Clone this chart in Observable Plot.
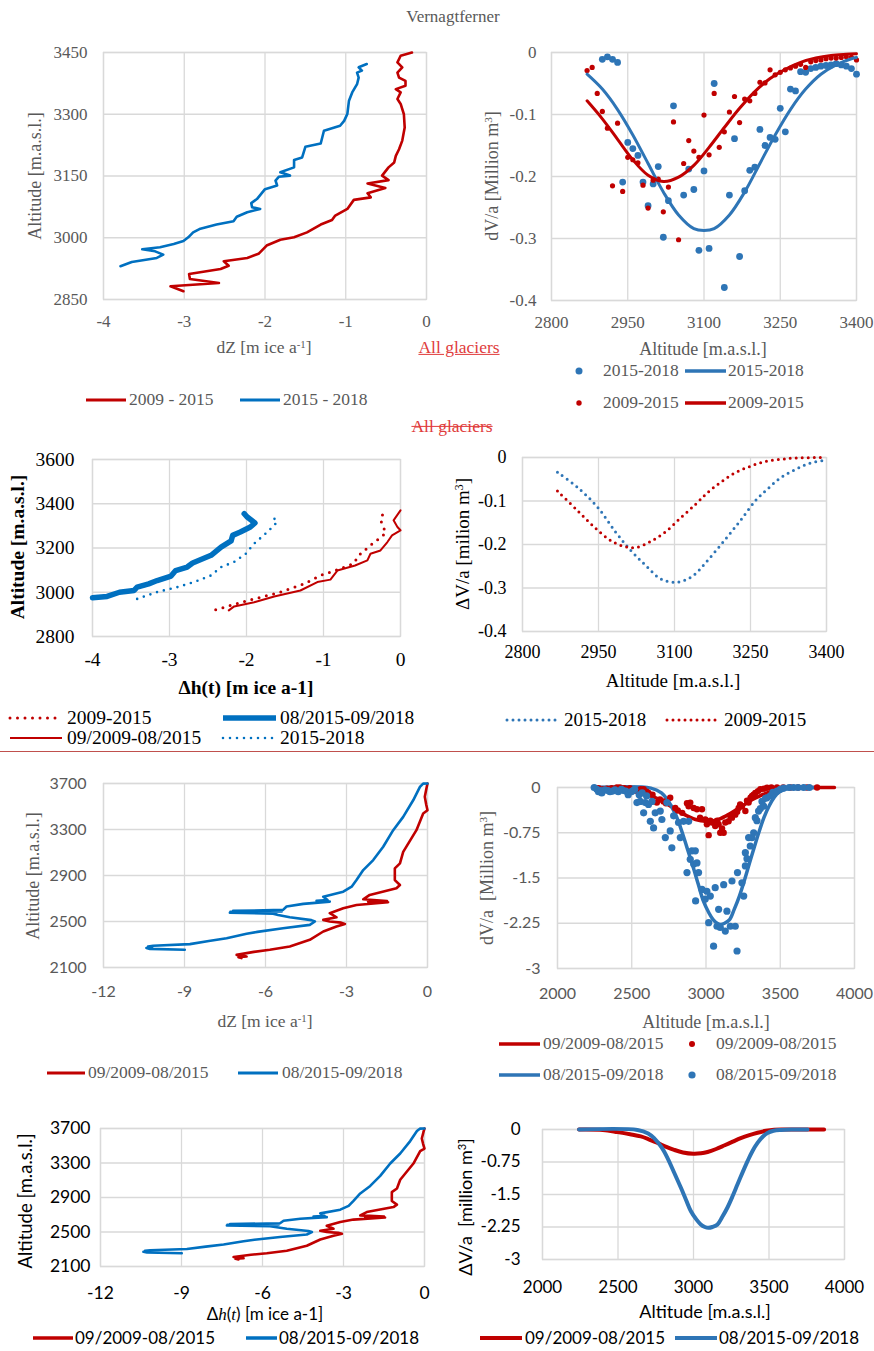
<!DOCTYPE html>
<html><head><meta charset="utf-8">
<script src="https://cdn.jsdelivr.net/npm/d3@7"></script>
<script src="https://cdn.jsdelivr.net/npm/@observablehq/plot@0.6"></script>
<style>
html,body{margin:0;padding:0;background:#fff}
#root{position:relative;width:874px;height:1351px;overflow:hidden;background:#fff}
.t{position:absolute;white-space:nowrap;line-height:1}
.sup{font-size:.62em;vertical-align:.5em}
</style></head><body><div id="root"></div>
<script>
// ---------------- DATA ----------------
// Panel 1 (Vernagtferner dZ profiles) : [dZ, altitude]
const vernDz0915 = [[-3.01,2870],[-3.17,2882],[-2.57,2890],[-2.93,2900],[-2.94,2912],[-2.55,2924],[-2.45,2932],[-2.51,2943],[-2.22,2951],[-2.08,2961],[-1.98,2981],[-1.81,2995],[-1.64,3001],[-1.48,3013],[-1.31,3032],[-1.17,3043],[-1.13,3054],[-0.98,3070],[-0.90,3092],[-0.69,3098],[-0.73,3108],[-0.51,3121],[-0.73,3132],[-0.47,3140],[-0.55,3151],[-0.47,3171],[-0.40,3183],[-0.38,3199],[-0.34,3215],[-0.30,3236],[-0.27,3268],[-0.28,3300],[-0.32,3325],[-0.36,3337],[-0.32,3353],[-0.38,3361],[-0.26,3369],[-0.26,3381],[-0.34,3389],[-0.36,3401],[-0.30,3414],[-0.36,3426],[-0.32,3442],[-0.18,3450]];
const vernDz1518 = [[-3.79,2931],[-3.65,2941],[-3.34,2951],[-3.26,2959],[-3.36,2967],[-3.52,2972],[-3.30,2977],[-3.13,2985],[-3.01,2992],[-2.95,3001],[-2.89,3013],[-2.80,3022],[-2.60,3032],[-2.39,3040],[-2.35,3051],[-2.22,3062],[-2.06,3070],[-2.16,3074],[-2.17,3084],[-2.10,3094],[-2.00,3118],[-1.85,3127],[-1.87,3139],[-1.83,3148],[-1.69,3151],[-1.81,3159],[-1.64,3171],[-1.64,3189],[-1.54,3195],[-1.50,3221],[-1.31,3229],[-1.27,3260],[-1.07,3272],[-1.02,3284],[-0.98,3301],[-0.96,3333],[-0.92,3353],[-0.86,3373],[-0.84,3389],[-0.86,3401],[-0.80,3406],[-0.84,3414],[-0.74,3422]];

// Panel 2 (Vernagtferner dV/a) : [altitude, dV/a]
const vernDv1518Pts = [[2900,-0.011],[2910,-0.007],[2920,-0.011],[2930,-0.016],[2940,-0.209],[2950,-0.145],[2960,-0.155],[2970,-0.166],[2980,-0.209],[2990,-0.247],[3000,-0.212],[3010,-0.184],[3020,-0.298],[3030,-0.239],[3040,-0.086],[3060,-0.230],[3070,-0.188],[3080,-0.221],[3090,-0.319],[3100,-0.191],[3110,-0.316],[3120,-0.050],[3140,-0.379],[3150,-0.230],[3160,-0.139],[3170,-0.329],[3180,-0.223],[3190,-0.190],[3200,-0.185],[3210,-0.124],[3220,-0.150],[3230,-0.137],[3240,-0.140],[3250,-0.090],[3260,-0.128],[3270,-0.059],[3280,-0.062],[3290,-0.031],[3300,-0.032],[3310,-0.026],[3320,-0.024],[3330,-0.022],[3340,-0.021],[3350,-0.020],[3360,-0.018],[3370,-0.020],[3380,-0.022],[3390,-0.026],[3400,-0.035]];
const vernDv0915Pts = [[2870,-0.029],[2880,-0.024],[2890,-0.066],[2900,-0.095],[2910,-0.122],[2920,-0.215],[2930,-0.114],[2940,-0.224],[2950,-0.169],[2960,-0.173],[2970,-0.178],[2980,-0.214],[2990,-0.251],[3000,-0.206],[3010,-0.204],[3020,-0.257],[3030,-0.217],[3040,-0.112],[3050,-0.302],[3060,-0.179],[3070,-0.142],[3080,-0.159],[3090,-0.169],[3100,-0.101],[3110,-0.165],[3120,-0.066],[3130,-0.153],[3140,-0.128],[3150,-0.096],[3160,-0.071],[3170,-0.113],[3180,-0.075],[3190,-0.078],[3200,-0.066],[3210,-0.048],[3220,-0.049],[3230,-0.028],[3240,-0.036],[3250,-0.032],[3260,-0.028],[3270,-0.025],[3280,-0.022],[3290,-0.019],[3300,-0.024],[3310,-0.015],[3320,-0.013],[3330,-0.012],[3340,-0.010],[3350,-0.009],[3360,-0.009],[3370,-0.008],[3380,-0.007],[3390,-0.008],[3400,-0.012]];
const vernDv1518Fit = [[2870,-0.035],[2900,-0.059],[2930,-0.092],[2960,-0.133],[2990,-0.179],[3020,-0.225],[3050,-0.262],[3080,-0.284],[3100,-0.287],[3120,-0.284],[3150,-0.262],[3180,-0.225],[3210,-0.179],[3240,-0.133],[3270,-0.092],[3300,-0.059],[3330,-0.035],[3360,-0.020],[3390,-0.010],[3400,-0.008]];
const vernDv0915Fit = [[2870,-0.078],[2900,-0.107],[2930,-0.140],[2960,-0.173],[2990,-0.198],[3020,-0.208],[3050,-0.201],[3080,-0.182],[3110,-0.153],[3140,-0.121],[3170,-0.090],[3200,-0.063],[3230,-0.042],[3260,-0.027],[3290,-0.016],[3320,-0.009],[3350,-0.005],[3380,-0.003],[3400,-0.002]];

// Panel 3 (All glaciers, Δh(t)) : [Δh, altitude]
const agDh0915Dot = [[-2.40,2921],[-2.21,2940],[-1.95,2966],[-1.60,2996],[-1.25,3038],[-1.04,3076],[-0.82,3102],[-0.61,3129],[-0.54,3167],[-0.39,3212],[-0.28,3242],[-0.19,3268],[-0.22,3292],[-0.26,3328],[-0.21,3368]];
const agDh0915Line = [[-2.23,2918],[-2.16,2936],[-1.90,2955],[-1.64,2981],[-1.30,3008],[-1.08,3046],[-0.91,3057],[-0.82,3098],[-0.59,3121],[-0.43,3144],[-0.39,3174],[-0.26,3189],[-0.17,3227],[-0.11,3257],[0,3280],[-0.04,3295],[-0.09,3325],[0,3370]];
const agDh1518Line = [[-4,2975],[-3.81,2981],[-3.65,3000],[-3.46,3008],[-3.42,3023],[-3.27,3038],[-3.16,3053],[-2.98,3073],[-2.92,3098],[-2.77,3114],[-2.70,3132],[-2.46,3167],[-2.33,3204],[-2.20,3232],[-2.18,3257],[-2.08,3272],[-1.95,3295],[-1.89,3313],[-1.99,3340],[-2.03,3355]];
const agDh1518Dot = [[-3.42,2970],[-3.16,3001],[-2.90,3023],[-2.68,3046],[-2.46,3076],[-2.33,3114],[-2.16,3137],[-2.01,3174],[-1.90,3220],[-1.73,3272],[-1.60,3318],[-1.64,3333]];

// Panel 4 (All glaciers ΔV/a) : [altitude, ΔV/a]
const agDv1518 = [[2869,-0.034],[2908,-0.068],[2948,-0.114],[2984,-0.172],[3014,-0.214],[3043,-0.248],[3073,-0.279],[3104,-0.287],[3135,-0.273],[3168,-0.233],[3201,-0.187],[3230,-0.145],[3260,-0.099],[3284,-0.072],[3309,-0.047],[3338,-0.028],[3368,-0.013],[3400,-0.006]];
const agDv0915 = [[2869,-0.077],[2905,-0.118],[2941,-0.159],[2977,-0.193],[3007,-0.206],[3027,-0.206],[3053,-0.193],[3083,-0.170],[3112,-0.139],[3142,-0.107],[3165,-0.081],[3191,-0.057],[3218,-0.036],[3248,-0.021],[3279,-0.009],[3310,-0.004],[3342,-0.001],[3395,0]];

// Panels 5 & 7 (dZ / Δh(t) profiles) : [value, altitude]
const profile0915 = [[-6.89,2182],[-7.00,2190],[-6.70,2195],[-7.07,2210],[-6.43,2236],[-5.84,2254],[-5.10,2283],[-4.36,2341],[-3.86,2413],[-3.37,2456],[-3.06,2479],[-3.20,2490],[-3.62,2500],[-3.86,2514],[-3.37,2537],[-3.62,2572],[-3.12,2615],[-2.63,2644],[-1.46,2668],[-2.20,2673],[-1.50,2678],[-2.38,2693],[-2.14,2731],[-1.15,2789],[-1.02,2817],[-1.21,2860],[-1.21,2962],[-1.02,3005],[-0.90,3106],[-0.41,3294],[-0.16,3439],[0,3468],[-0.05,3520],[-0.10,3584],[-0.04,3657],[0,3700]];
const profile1518 = [[-8.99,2254],[-10.28,2262],[-10.41,2270],[-10.20,2277],[-10.35,2283],[-10.16,2289],[-8.80,2303],[-8.10,2330],[-7.44,2355],[-6.70,2393],[-6.30,2410],[-5.35,2442],[-4.36,2471],[-4.17,2500],[-4.30,2512],[-5.10,2537],[-5.53,2557],[-5.72,2568],[-7.32,2576],[-5.60,2580],[-7.30,2584],[-5.40,2588],[-7.20,2592],[-5.35,2601],[-5.22,2630],[-4.60,2653],[-3.62,2673],[-4.11,2680],[-3.70,2687],[-3.86,2716],[-3.12,2759],[-2.81,2803],[-2.63,2861],[-2.38,2947],[-2.01,3034],[-1.64,3150],[-1.27,3294],[-0.90,3410],[-0.53,3554],[-0.28,3670],[-0.16,3699],[0,3700]];

// Panel 6 (dV/a scatter) & panels 6/8 fitted curves : [altitude, value]
const dv1518Pts = [[2247,0],[2265,-0.03],[2276,-0.07],[2290,-0.05],[2298,-0.09],[2320,-0.04],[2340,-0.05],[2353,-0.07],[2370,-0.06],[2387,-0.04],[2409,-0.07],[2430,-0.03],[2442,-0.05],[2460,-0.06],[2476,-0.12],[2498,-0.07],[2510,-0.05],[2520,-0.03],[2535,-0.25],[2550,-0.12],[2557,-0.23],[2570,-0.09],[2580,-0.42],[2591,-0.25],[2600,-0.14],[2613,-0.28],[2625,-0.56],[2636,-0.23],[2647,-0.67],[2658,-0.42],[2692,-0.39],[2703,-0.53],[2726,-0.83],[2737,-0.25],[2759,-0.72],[2770,-1.00],[2782,-0.47],[2815,-0.58],[2827,-0.83],[2849,-0.56],[2872,-1.41],[2883,-0.56],[2894,-1.19],[2905,-1.05],[2917,-1.27],[2928,-1.05],[2930,-1.88],[2939,-1.25],[2950,-1.41],[2973,-1.69],[2995,-1.85],[3006,-1.72],[3018,-2.24],[3029,-1.80],[3051,-2.63],[3062,-1.66],[3074,-2.30],[3085,-2.02],[3096,-2.32],[3119,-1.61],[3130,-2.38],[3141,-2.05],[3164,-2.30],[3175,-1.55],[3197,-2.30],[3209,-2.71],[3212,-1.41],[3242,-1.58],[3254,-1.80],[3265,-1.08],[3265,-1.30],[3276,-1.18],[3287,-0.83],[3298,-0.97],[3310,-0.83],[3321,-0.75],[3332,-0.50],[3343,-0.55],[3354,-0.39],[3366,-0.35],[3377,-0.23],[3388,-0.31],[3400,-0.18],[3410,-0.17],[3433,-0.14],[3450,-0.08],[3478,-0.06],[3500,-0.03],[3523,-0.01],[3560,0],[3590,0],[3620,0],[3658,0],[3696,0]];
const dv0915Pts = [[2276,-0.01],[2309,-0.03],[2333,-0.02],[2365,-0.01],[2400,0],[2420,0],[2450,-0.01],[2487,-0.01],[2531,-0.04],[2560,-0.03],[2580,-0.03],[2600,-0.07],[2613,-0.09],[2640,-0.12],[2669,-0.25],[2690,-0.20],[2714,-0.23],[2730,-0.26],[2759,-0.17],[2793,-0.34],[2810,-0.38],[2840,-0.42],[2872,-0.26],[2883,-0.31],[2894,-0.25],[2917,-0.34],[2939,-0.36],[2960,-0.50],[2973,-0.36],[2995,-0.53],[3006,-0.61],[3018,-0.79],[3029,-0.55],[3040,-0.58],[3062,-0.64],[3075,-0.55],[3085,-0.61],[3096,-0.75],[3108,-0.68],[3119,-0.75],[3130,-0.58],[3152,-0.56],[3165,-0.48],[3175,-0.50],[3197,-0.45],[3210,-0.40],[3220,-0.34],[3230,-0.28],[3242,-0.31],[3265,-0.39],[3276,-0.22],[3287,-0.25],[3300,-0.17],[3310,-0.14],[3320,-0.12],[3332,-0.09],[3350,-0.06],[3366,-0.03],[3390,-0.02],[3411,-0.005],[3440,0],[3478,0],[3520,0],[3570,0],[3620,0],[3680,0],[3748,0]];
const dv1518Fit = [[2242,0],[2629,-0.01],[2700,-0.09],[2739,-0.20],[2790,-0.42],[2828,-0.66],[2870,-0.98],[2916,-1.34],[2950,-1.62],[2982,-1.88],[3020,-2.08],[3048,-2.19],[3075,-2.25],[3099,-2.27],[3125,-2.25],[3159,-2.19],[3190,-2.02],[3225,-1.80],[3260,-1.53],[3291,-1.27],[3325,-0.99],[3358,-0.73],[3390,-0.50],[3424,-0.31],[3460,-0.16],[3490,-0.08],[3530,-0.03],[3578,-0.01],[3650,0],[3755,0]];
const dv0915Fit = [[2242,0],[2400,-0.01],[2497,-0.06],[2580,-0.11],[2651,-0.16],[2700,-0.22],[2762,-0.31],[2820,-0.40],[2872,-0.47],[2930,-0.53],[3000,-0.56],[3050,-0.55],[3093,-0.52],[3150,-0.45],[3203,-0.37],[3260,-0.28],[3313,-0.20],[3370,-0.13],[3424,-0.075],[3480,-0.03],[3534,-0.005],[3600,0],[3865,0]];

// Tick values
const ticksDz4 = [-4,-3,-2,-1,0];
const ticksAltV = [2850,3000,3150,3300,3450];
const ticksAltX = [2800,2950,3100,3250,3400];
const ticksDv04 = [-0.4,-0.3,-0.2,-0.1,0];
const ticksAlt3600 = [2800,3000,3200,3400,3600];
const ticksDz12 = [-12,-9,-6,-3,0];
const ticksAlt3700 = [2100,2500,2900,3300,3700];
const ticksAltX4000 = [2000,2500,3000,3500,4000];
const ticksDv3 = [-3,-2.25,-1.5,-0.75,0];

// ---------------- RENDER ----------------
const RED = "#c00000", BLUE = "#0070c0", BLUE2 = "#2e75b6", GRID = "#d9d9d9";
const SERIF = "'Liberation Serif','Times New Roman',serif";
const SANS = "Lato,'Open Sans',sans-serif";
const root = document.getElementById("root");
const fmt = d => String(d);
const X0 = d => d[0], X1 = d => d[1];

function panel(p, marks) {
  const mL = 70, mT = 14, mR = 34, mB = 44;
  const chart = Plot.plot({
    width: p.R - p.L + mL + mR, height: p.B - p.T + mT + mB,
    marginLeft: mL, marginTop: mT, marginRight: mR, marginBottom: mB,
    style: {fontFamily: p.font, fontSize: p.size + "px", color: p.color, background: "transparent", overflow: "visible"},
    x: {domain: p.x, ticks: p.xt, tickFormat: fmt, tickSize: 0, tickPadding: p.padX, label: null},
    y: {domain: p.y, ticks: p.yt, tickFormat: fmt, tickSize: 0, tickPadding: p.padY, label: null},
    marks: [
      Plot.ruleX(p.xt, {stroke: GRID, strokeWidth: 1.3}),
      Plot.ruleY(p.yt, {stroke: GRID, strokeWidth: 1.3}),
      Plot.frame({stroke: GRID, strokeWidth: 1.3}),
      ...marks
    ]
  });
  chart.style.position = "absolute";
  chart.style.left = (p.L - mL) + "px";
  chart.style.top = (p.T - mT) + "px";
  chart.style.maxWidth = "none";
  root.appendChild(chart);
}

function txt(html, x, y, o = {}) {
  const d = document.createElement("div");
  d.className = "t";
  d.innerHTML = html;
  Object.assign(d.style, {
    left: x + "px", top: y + "px", fontFamily: o.f || SERIF, fontSize: (o.s || 17) + "px",
    color: o.c || "#595959", fontWeight: o.w || "normal"
  });
  if (o.deco) d.style.textDecoration = o.deco;
  let tr = o.a === "start" ? "translate(0,-52%)" : "translate(-50%,-52%)";
  if (o.rot) tr = "translate(-50%,-50%) rotate(-90deg)";
  d.style.transform = tr;
  root.appendChild(d);
}

function swLine(x1, x2, y, color, w, dash) {
  const ns = "http://www.w3.org/2000/svg";
  const s = document.createElementNS(ns, "svg");
  s.setAttribute("width", x2 - x1 + 10); s.setAttribute("height", 14);
  s.style.position = "absolute"; s.style.left = (x1 - 5) + "px"; s.style.top = (y - 7) + "px";
  const l = document.createElementNS(ns, "line");
  l.setAttribute("x1", 5); l.setAttribute("x2", x2 - x1 + 5); l.setAttribute("y1", 7); l.setAttribute("y2", 7);
  l.setAttribute("stroke", color); l.setAttribute("stroke-width", w);
  if (dash) { l.setAttribute("stroke-dasharray", dash); l.setAttribute("stroke-linecap", "round"); }
  s.appendChild(l); root.appendChild(s);
}
function swDot(x, y, r, color) {
  const ns = "http://www.w3.org/2000/svg";
  const s = document.createElementNS(ns, "svg");
  s.setAttribute("width", 12); s.setAttribute("height", 12);
  s.style.position = "absolute"; s.style.left = (x - 6) + "px"; s.style.top = (y - 6) + "px";
  const c = document.createElementNS(ns, "circle");
  c.setAttribute("cx", 6); c.setAttribute("cy", 6); c.setAttribute("r", r); c.setAttribute("fill", color);
  s.appendChild(c); root.appendChild(s);
}

const GRAY = "#595959", BLACK = "#000";
const sup = s => `<span class="sup">${s}</span>`;

// Panel 1
panel({L:103,T:52,R:426,B:299,x:[-4,0],y:[2850,3450],xt:ticksDz4,yt:ticksAltV,font:SERIF,size:17,color:GRAY,padX:15.5,padY:16}, [
  Plot.line(vernDz0915, {x: X0, y: X1, stroke: RED, strokeWidth: 2.6}),
  Plot.line(vernDz1518, {x: X0, y: X1, stroke: BLUE, strokeWidth: 2.6})
]);
// Panel 2
panel({L:551,T:52,R:856,B:300,x:[2800,3400],y:[-0.4,0],xt:ticksAltX,yt:ticksDv04,font:SERIF,size:17,color:GRAY,padX:15.5,padY:15}, [
  Plot.dot(vernDv1518Pts, {x: X0, y: X1, r: 3.4, fill: BLUE2}),
  Plot.dot(vernDv0915Pts, {x: X0, y: X1, r: 2.6, fill: RED}),
  Plot.line(vernDv1518Fit, {x: X0, y: X1, stroke: BLUE2, strokeWidth: 3, curve: "catmull-rom"}),
  Plot.line(vernDv0915Fit, {x: X0, y: X1, stroke: RED, strokeWidth: 3, curve: "catmull-rom"})
]);
// Panel 3
panel({L:92,T:459,R:400,B:636,x:[-4,0],y:[2800,3600],xt:ticksDz4,yt:ticksAlt3600,font:SERIF,size:19.5,color:BLACK,padX:16,padY:18}, [
  Plot.line(agDh0915Dot, {x: X0, y: X1, stroke: RED, strokeWidth: 3, strokeDasharray: "0 7.5", strokeLinecap: "round"}),
  Plot.line(agDh0915Line, {x: X0, y: X1, stroke: RED, strokeWidth: 2}),
  Plot.line(agDh1518Line, {x: X0, y: X1, stroke: BLUE, strokeWidth: 5.5}),
  Plot.line(agDh1518Dot, {x: X0, y: X1, stroke: BLUE, strokeWidth: 2.6, strokeDasharray: "0 7", strokeLinecap: "round"})
]);
// Panel 4
panel({L:522,T:457,R:826,B:631,x:[2800,3400],y:[-0.4,0],xt:ticksAltX,yt:ticksDv04,font:SERIF,size:18,color:BLACK,padX:14,padY:16}, [
  Plot.line(agDv1518, {x: X0, y: X1, stroke: BLUE2, strokeWidth: 3, strokeDasharray: "0 6", strokeLinecap: "round", curve: "catmull-rom"}),
  Plot.line(agDv0915, {x: X0, y: X1, stroke: RED, strokeWidth: 3, strokeDasharray: "0 6", strokeLinecap: "round", curve: "catmull-rom"})
]);
// Panel 5
panel({L:103,T:783,R:427,B:967,x:[-12,0],y:[2100,3700],xt:ticksDz12,yt:ticksAlt3700,font:SANS,size:16,color:GRAY,padX:18,padY:17}, [
  Plot.line(profile0915, {x: X0, y: X1, stroke: RED, strokeWidth: 2.6}),
  Plot.line(profile1518, {x: X0, y: X1, stroke: BLUE, strokeWidth: 2.6})
]);
// Panel 6
panel({L:557,T:787,R:854,B:968,x:[2000,4000],y:[-3,0],xt:ticksAltX4000,yt:ticksDv3,font:SANS,size:16,color:GRAY,padX:19,padY:17}, [
  Plot.line(dv0915Fit, {x: X0, y: X1, stroke: RED, strokeWidth: 3.5, curve: "catmull-rom"}),
  Plot.line(dv1518Fit, {x: X0, y: X1, stroke: BLUE2, strokeWidth: 3.5, curve: "catmull-rom"}),
  Plot.dot(dv0915Pts, {x: X0, y: X1, r: 3.2, fill: RED}),
  Plot.dot(dv1518Pts, {x: X0, y: X1, r: 3.6, fill: BLUE2})
]);
// Panel 7
panel({L:100,T:1128,R:424,B:1266,x:[-12,0],y:[2100,3700],xt:ticksDz12,yt:ticksAlt3700,font:SANS,size:17.5,color:BLACK,padX:20,padY:10}, [
  Plot.line(profile0915, {x: X0, y: X1, stroke: RED, strokeWidth: 2.6}),
  Plot.line(profile1518, {x: X0, y: X1, stroke: BLUE, strokeWidth: 2.6})
]);
// Panel 8
panel({L:542,T:1129,R:844,B:1259,x:[2000,4000],y:[-3,0],xt:ticksAltX4000,yt:ticksDv3,font:SANS,size:17,color:BLACK,padX:21,padY:22}, [
  Plot.line(dv0915Fit, {x: X0, y: X1, stroke: RED, strokeWidth: 4, curve: "catmull-rom"}),
  Plot.line(dv1518Fit, {x: X0, y: X1, stroke: BLUE2, strokeWidth: 4, curve: "catmull-rom"})
]);

// ---------------- TEXT / LEGENDS ----------------
txt("Vernagtferner", 453, 17, {s: 17});
// P1
txt("Altitude [m.a.s.l.]", 35, 176, {s: 18, rot: true});
txt("dZ [m ice a" + sup("-1") + "]", 264, 348, {s: 17.5});
swLine(86, 126, 400, RED, 3); txt("2009 - 2015", 129, 400, {a: "start", s: 17.5});
swLine(240, 280, 400, BLUE, 3); txt("2015 - 2018", 283, 400, {a: "start", s: 17.5});
txt("All glaciers", 459, 348, {s: 17.5, c: "#e03c3c", deco: "underline"});
// P2
txt("dV/a [Million m" + sup("3") + "]", 492, 176, {s: 18, rot: true});
txt("Altitude [m.a.s.l.]", 703, 349, {s: 18});
swDot(579, 371, 3.5, BLUE2); txt("2015-2018", 603, 371, {a: "start", s: 17.5});
swLine(685, 726, 371, BLUE2, 3.5); txt("2015-2018", 728, 371, {a: "start", s: 17.5});
swDot(579, 403, 2.7, RED); txt("2009-2015", 603, 403, {a: "start", s: 17.5});
swLine(685, 726, 403, RED, 3.5); txt("2009-2015", 728, 403, {a: "start", s: 17.5});
txt("All glaciers", 452, 427, {s: 17.5, c: "#e03c3c", deco: "line-through"});
// P3
txt("Altitude [m.a.s.l.]", 18, 547, {s: 19.5, rot: true, c: BLACK, w: "bold"});
txt("Δh(t) [m ice a-1]", 246, 688, {s: 19.5, c: BLACK, w: "bold"});
swLine(10, 60, 718, RED, 3, "0 7.5"); txt("2009-2015", 67, 718, {a: "start", s: 19.5, c: BLACK});
swLine(223, 276, 718, BLUE, 5.5); txt("08/2015-09/2018", 280, 718, {a: "start", s: 19.5, c: BLACK});
swLine(10, 62, 738, RED, 2); txt("09/2009-08/2015", 67, 738, {a: "start", s: 19.5, c: BLACK});
swLine(223, 276, 738, BLUE, 2.6, "0 7"); txt("2015-2018", 280, 738, {a: "start", s: 19.5, c: BLACK});
// P4
txt("ΔV/a [milion m" + sup("3") + "]", 462, 544, {s: 19, rot: true, c: BLACK});
txt("Altitude [m.a.s.l.]", 673, 681, {s: 19, c: BLACK});
swLine(507, 558, 720, BLUE2, 3, "0 6"); txt("2015-2018", 564, 720, {a: "start", s: 19, c: BLACK});
swLine(667, 718, 720, RED, 3, "0 6"); txt("2009-2015", 724, 720, {a: "start", s: 19, c: BLACK});
// separator
(function(){ const d = document.createElement("div"); Object.assign(d.style, {position:"absolute", left:"0px", top:"751px", width:"874px", height:"1px", background:"#c0504d"}); root.appendChild(d); })();
// P5
txt("Altitude [m.a.s.l.]", 33, 876, {s: 18, rot: true});
txt("dZ [m ice a" + sup("-1") + "]", 265, 1022, {s: 17.5});
swLine(47, 85, 1073, RED, 3); txt("09/2009-08/2015", 88, 1073, {a: "start", s: 17.5});
swLine(238, 278, 1073, BLUE, 3); txt("08/2015-09/2018", 282, 1073, {a: "start", s: 17.5});
// P6
txt("dV/a&nbsp;&nbsp;[Million m" + sup("3") + "]", 487, 878, {s: 18, rot: true});
txt("Altitude [m.a.s.l.]", 706, 1022, {s: 18});
swLine(499, 540, 1044, RED, 3.5); txt("09/2009-08/2015", 543, 1044, {a: "start", s: 17.5});
swDot(692, 1044, 3, RED); txt("09/2009-08/2015", 716, 1044, {a: "start", s: 17.5});
swLine(499, 540, 1075, BLUE2, 3.5); txt("08/2015-09/2018", 543, 1075, {a: "start", s: 17.5});
swDot(692, 1075, 3.6, BLUE2); txt("08/2015-09/2018", 716, 1075, {a: "start", s: 17.5});
// P7
txt("Altitude [m.a.s.l.]", 25, 1201, {f: SANS, s: 18.5, rot: true, c: BLACK});
txt("Δ<i style=\"font-family:'Liberation Serif',serif\">h</i>(<i style=\"font-family:'Liberation Serif',serif\">t</i>) [m ice a-1]", 265, 1314, {f: SANS, s: 17, c: BLACK});
swLine(33, 73, 1338, RED, 3.5); txt("09/2009-08/2015", 75, 1338, {a: "start", f: SANS, s: 17, c: BLACK});
swLine(246, 277, 1338, BLUE, 3.5); txt("08/2015-09/2018", 279, 1338, {a: "start", f: SANS, s: 17, c: BLACK});
// P8
txt("ΔV/a&nbsp;&nbsp;[million m" + sup("3") + "]", 465, 1207, {f: SANS, s: 18, rot: true, c: BLACK});
txt("Altitude [m.a.s.l.]", 705, 1311, {f: SANS, s: 18, c: BLACK});
swLine(480, 522, 1338, RED, 4); txt("09/2009-08/2015", 525, 1338, {a: "start", f: SANS, s: 17, c: BLACK});
swLine(675, 717, 1338, BLUE2, 4); txt("08/2015-09/2018", 719, 1338, {a: "start", f: SANS, s: 17, c: BLACK});
</script></body></html>
